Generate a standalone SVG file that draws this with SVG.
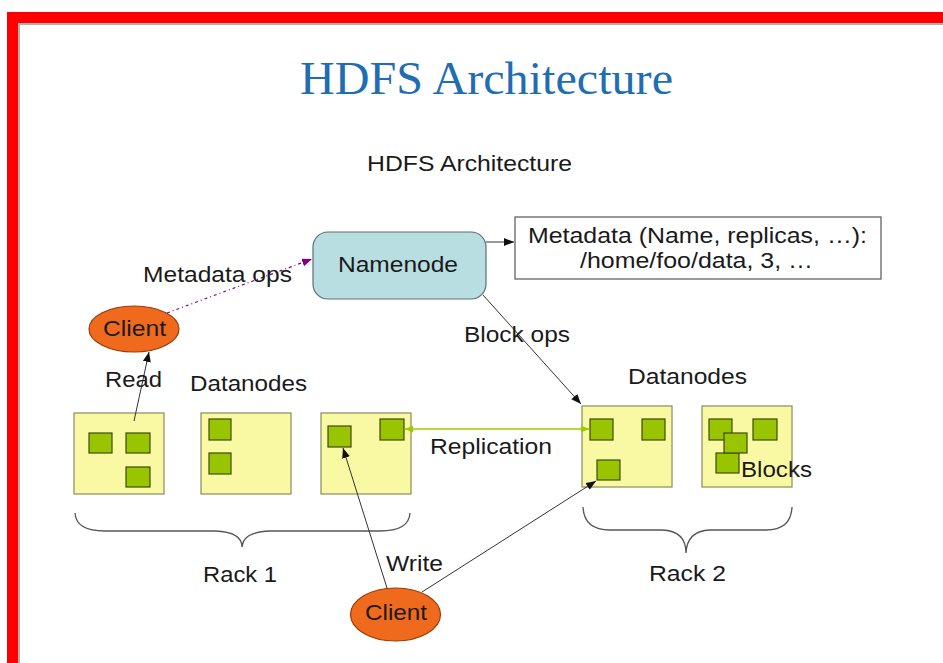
<svg xmlns="http://www.w3.org/2000/svg" width="943" height="663" viewBox="0 0 943 663">
  <defs>
    <style>
      .lbl { font-family: "Liberation Sans", Arial, sans-serif; font-size: 22px; fill: #1a1a1a; }
      .title { font-family: "Liberation Serif", "Times New Roman", serif; font-size: 47px; fill: #1f6db3; }
      .node { fill: #f9f9a3; stroke: #8a8a5e; stroke-width: 1.2; }
      .blk { fill: #99c400; stroke: #3c4a12; stroke-width: 1.2; }
      .client { fill: #ef6a1d; stroke: #9c3a05; stroke-width: 1.2; }
      .conn { fill: none; stroke: #333; stroke-width: 1; }
      .brace { fill: none; stroke: #555; stroke-width: 1.3; }
    </style>
    <marker id="arr" markerUnits="userSpaceOnUse" markerWidth="11" markerHeight="9" refX="10" refY="4" orient="auto">
      <path d="M0,0 L10,4 L0,8 z" fill="#111"/>
    </marker>
    <marker id="arrP" markerUnits="userSpaceOnUse" markerWidth="11" markerHeight="9" refX="10" refY="4" orient="auto">
      <path d="M0,0 L10,4 L0,8 z" fill="#800080"/>
    </marker>
    <marker id="arrG" markerUnits="userSpaceOnUse" markerWidth="9" markerHeight="8" refX="8" refY="3.5" orient="auto-start-reverse">
      <path d="M0,0 L8,3.5 L0,7 z" fill="#99cc00"/>
    </marker>
  </defs>

  <!-- page background and red frame -->
  <rect x="0" y="0" width="943" height="663" fill="#ffffff"/>
  <rect x="7" y="12" width="936" height="11" fill="#ff0000"/>
  <rect x="7" y="12" width="11" height="651" fill="#ff0000"/>
  <line x1="19" y1="24" x2="19" y2="663" stroke="#b0b0b0" stroke-width="2"/>
  <line x1="18" y1="24" x2="943" y2="24" stroke="#b0b0b0" stroke-width="2"/>

  <!-- headings -->
  <text class="title" x="300" y="94" textLength="373" lengthAdjust="spacingAndGlyphs">HDFS Architecture</text>
  <text class="lbl" x="367" y="171" font-size="21" textLength="205" lengthAdjust="spacingAndGlyphs">HDFS Architecture</text>

  <!-- namenode -->
  <g id="namenode">
    <rect x="313" y="232" width="173" height="67" rx="15" fill="#b8dee2" stroke="#5c7072" stroke-width="1.2"/>
    <text class="lbl" x="338" y="272" textLength="120" lengthAdjust="spacingAndGlyphs">Namenode</text>
  </g>

  <!-- metadata table -->
  <g id="metadata">
    <rect x="515" y="217" width="366" height="62" fill="#ffffff" stroke="#555" stroke-width="1.2"/>
    <text class="lbl" x="528" y="243" textLength="339" lengthAdjust="spacingAndGlyphs">Metadata (Name, replicas, …):</text>
    <text class="lbl" x="580" y="268" textLength="233" lengthAdjust="spacingAndGlyphs">/home/foo/data, 3, …</text>
  </g>

  <!-- reading client -->
  <g id="client-read">
    <ellipse class="client" cx="134" cy="329" rx="45" ry="23"/>
    <text class="lbl" x="103" y="336" textLength="63" lengthAdjust="spacingAndGlyphs">Client</text>
  </g>

  <!-- writing client -->
  <g id="client-write">
    <ellipse class="client" cx="395.5" cy="614.5" rx="45" ry="26.5"/>
    <text class="lbl" x="365" y="620" textLength="62" lengthAdjust="spacingAndGlyphs">Client</text>
  </g>

  <!-- rack 1 datanodes -->
  <g id="dn1">
    <rect class="node" x="74" y="413" width="90" height="81"/>
    <rect class="blk" x="89" y="433" width="23" height="20"/>
    <rect class="blk" x="126" y="433" width="24" height="20"/>
    <rect class="blk" x="126" y="467" width="24" height="20"/>
  </g>
  <g id="dn2">
    <rect class="node" x="201" y="413" width="90" height="81"/>
    <rect class="blk" x="209" y="419" width="22" height="21"/>
    <rect class="blk" x="209" y="453" width="22" height="21"/>
  </g>
  <g id="dn3">
    <rect class="node" x="321" y="413" width="90" height="81"/>
    <rect class="blk" x="328" y="426" width="23" height="21"/>
    <rect class="blk" x="380" y="419" width="24" height="21"/>
  </g>

  <!-- rack 2 datanodes -->
  <g id="dn4">
    <rect class="node" x="582" y="406" width="90" height="81"/>
    <rect class="blk" x="590" y="419" width="23" height="21"/>
    <rect class="blk" x="642" y="419" width="23" height="21"/>
    <rect class="blk" x="597" y="460" width="23" height="20"/>
  </g>
  <g id="dn5">
    <rect class="node" x="702" y="406" width="90" height="81"/>
    <rect class="blk" x="709" y="419" width="23" height="21"/>
    <rect class="blk" x="753" y="419" width="24" height="21"/>
    <rect class="blk" x="716" y="453" width="23" height="20"/>
    <rect class="blk" x="724" y="433" width="23" height="20"/>
    <text class="lbl" x="741" y="477" textLength="71" lengthAdjust="spacingAndGlyphs">Blocks</text>
  </g>

  <!-- rack braces -->
  <g id="rack1">
    <path class="brace" d="M75,513 Q76,531 105,531 L215,531 Q242,532 242,547 Q243,532 270,531 L380,531 Q409,531 410,513"/>
    <text class="lbl" x="203" y="582" textLength="74" lengthAdjust="spacingAndGlyphs">Rack 1</text>
  </g>
  <g id="rack2">
    <path class="brace" d="M583,507 Q584,530 610,530 L662,530 Q686,531 686,553 Q687,531 710,530 L766,530 Q791,530 792,507"/>
    <text class="lbl" x="649" y="581" textLength="77" lengthAdjust="spacingAndGlyphs">Rack 2</text>
  </g>

  <!-- connectors, drawn over the nodes -->
  <g id="connectors">
    <line class="conn" x1="486" y1="242" x2="514" y2="242" marker-end="url(#arr)"/>
    <line x1="167" y1="313" x2="312" y2="259" stroke="#800080" stroke-width="1.2" stroke-dasharray="3 3 1 3" marker-end="url(#arrP)"/>
    <line class="conn" x1="483" y1="295" x2="581" y2="404" marker-end="url(#arr)"/>
    <line class="conn" x1="134" y1="421" x2="149" y2="352" marker-end="url(#arr)"/>
    <line class="conn" x1="387" y1="588" x2="343" y2="448" marker-end="url(#arr)"/>
    <line class="conn" x1="422" y1="592" x2="596" y2="481" marker-end="url(#arr)"/>
    <line x1="405" y1="429" x2="589" y2="429" stroke="#99cc00" stroke-width="1.5" marker-start="url(#arrG)" marker-end="url(#arrG)"/>
  </g>

  <!-- connector and group labels -->
  <g id="labels">
    <text class="lbl" x="143" y="282" textLength="149" lengthAdjust="spacingAndGlyphs">Metadata ops</text>
    <text class="lbl" x="464" y="342" textLength="106" lengthAdjust="spacingAndGlyphs">Block ops</text>
    <text class="lbl" x="105" y="387" textLength="57" lengthAdjust="spacingAndGlyphs">Read</text>
    <text class="lbl" x="190" y="391" textLength="117" lengthAdjust="spacingAndGlyphs">Datanodes</text>
    <text class="lbl" x="628" y="384" textLength="119" lengthAdjust="spacingAndGlyphs">Datanodes</text>
    <text class="lbl" x="430" y="454" textLength="122" lengthAdjust="spacingAndGlyphs">Replication</text>
    <text class="lbl" x="386" y="571" textLength="57" lengthAdjust="spacingAndGlyphs">Write</text>
  </g>
</svg>
